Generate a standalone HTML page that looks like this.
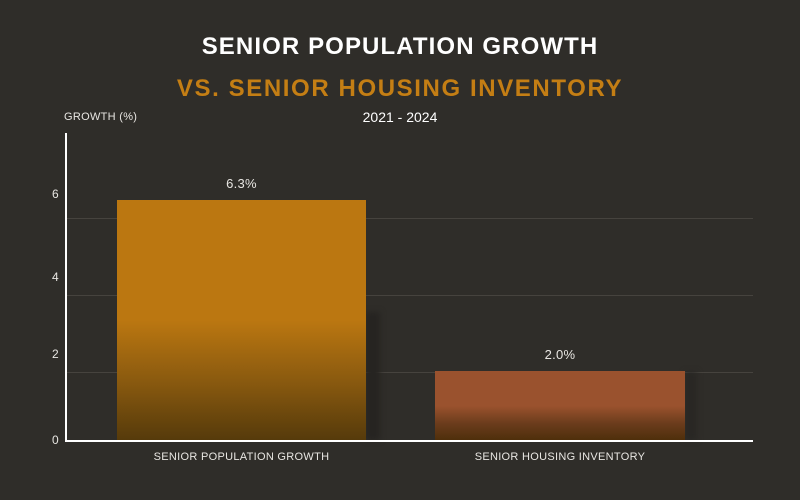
<!DOCTYPE html>
<html><head><style>
body{margin:0;width:800px;height:500px;background:#2f2d29;font-family:"Liberation Sans",sans-serif;overflow:hidden;position:relative}
.a{position:absolute}
.t{width:800px;text-align:center;font-weight:bold;font-size:24px;letter-spacing:1.1px}
.sm{color:#e8e6e2;font-size:11px;letter-spacing:0.3px}
.g{left:66px;width:687px;height:1px;background:#46433e}
</style></head><body>
<div class="a t" style="top:33px;color:#fff">SENIOR POPULATION GROWTH</div>
<div class="a t" style="top:75px;color:#c47e14;letter-spacing:1.6px">VS. SENIOR HOUSING INVENTORY</div>
<div class="a" style="top:109px;width:800px;text-align:center;color:#fff;font-size:14px">2021 - 2024</div>
<div class="a sm" style="left:64px;top:111px">GROWTH (%)</div>
<div class="a g" style="top:218px"></div>
<div class="a g" style="top:295px"></div>
<div class="a g" style="top:372px"></div>
<div class="a sm" style="left:52px;top:187px;font-size:12px">6</div>
<div class="a sm" style="left:52px;top:270px;font-size:12px">4</div>
<div class="a sm" style="left:52px;top:347px;font-size:12px">2</div>
<div class="a sm" style="left:52px;top:433px;font-size:12px">0</div>
<div class="a" style="left:366px;top:312px;width:14px;height:128px;background:#262421;filter:blur(3px)"></div>
<div class="a" style="left:117px;top:200px;width:249px;height:241px;background:linear-gradient(#bb7711 0%,#bb7711 50%,#8a5a0f 75%,#553a0b 100%)"></div>
<div class="a" style="left:685px;top:372px;width:12px;height:68px;background:#292724;filter:blur(3px)"></div>
<div class="a" style="left:435px;top:371px;width:250px;height:70px;background:linear-gradient(#9a522e 0%,#9a522e 50%,#6b3c1c 75%,#4d2e0a 100%)"></div>
<div class="a" style="left:65px;top:133px;width:2px;height:309px;background:#fff"></div>
<div class="a" style="left:65px;top:440px;width:688px;height:2px;background:#fff"></div>
<div class="a sm" style="left:117px;top:176px;width:249px;text-align:center;font-size:13px">6.3%</div>
<div class="a sm" style="left:435px;top:347px;width:250px;text-align:center;font-size:13px">2.0%</div>
<div class="a sm" style="left:117px;top:451px;width:249px;text-align:center">SENIOR POPULATION GROWTH</div>
<div class="a sm" style="left:435px;top:451px;width:250px;text-align:center">SENIOR HOUSING INVENTORY</div>
</body></html>
